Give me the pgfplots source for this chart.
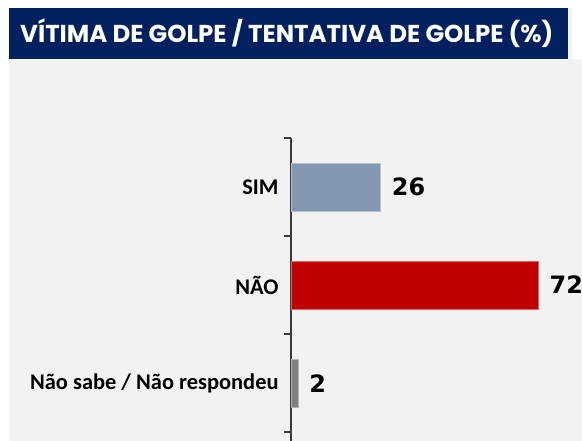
\documentclass[border=0pt]{standalone}
\usepackage{fontspec}
\setmainfont{Carlito}
\newfontfamily\valfont{DejaVu Sans}
\newfontfamily\titlefont{Poppins}
\usepackage{pgfplots}
\pgfplotsset{compat=1.18}
\definecolor{navy}{HTML}{002060}
\definecolor{bg}{HTML}{F2F2F2}
\definecolor{simc}{HTML}{8497B0}
\definecolor{naoc}{HTML}{C00000}
\definecolor{nsc}{HTML}{808080}
\definecolor{axc}{HTML}{3A3A3A}
\begin{document}
\begin{tikzpicture}[x=1bp,y=1bp]
\clip (0,0) rectangle (582,441);
\fill[white] (0,0) rectangle (582,441);
\fill[bg] (9,0) rectangle (582,382);
\fill[bg] (9,382) rectangle (572,433);
\fill[navy] (9,382) rectangle (568,433);
\node[anchor=west,text=white,inner sep=0pt] at (20,407.5)
  {\resizebox{533bp}{!}{\titlefont\bfseries VÍTIMA DE GOLPE / TENTATIVA DE GOLPE (\%)}};
\begin{axis}[
  at={(291bp,303bp)}, anchor=north west,
  scale only axis, width=290bp, height=303bp,
  xmin=0, xmax=84.5,
  ymin=-0.5, ymax=2.59,
  y dir=reverse,
  xbar, bar width=48bp, bar shift=0pt,
  hide x axis,
  axis y line*=left,
  y axis line style={-, line width=1.6bp, color=axc},
  ytick={0,1,2},
  yticklabels={SIM, NÃO, Não sabe / Não respondeu},
  major tick length=0pt,
  yticklabel style={font=\fontsize{22.5}{26}\selectfont\bfseries, text=black, xshift=-9bp},
  extra y ticks={-0.5,0.5,1.5,2.5},
  extra y tick labels={},
  extra y tick style={major tick length=7bp, tick align=outside,
     tick style={line width=1.6bp, color=axc}},
  clip=false,
  /pgf/number format/assume math mode=true,
  nodes near coords,
  nodes near coords style={font=\valfont\fontsize{24}{27}\selectfont\bfseries, text=black, anchor=west, xshift=8bp},
]
\addplot[fill=simc, draw=simc!60!white, line width=0.6bp] coordinates {(26,0)};
\addplot[fill=naoc, draw=naoc!60!white, line width=0.6bp] coordinates {(72,1)};
\addplot[fill=nsc, draw=nsc!60!white, line width=0.6bp] coordinates {(2,2)};
\end{axis}
\end{tikzpicture}
\end{document}
